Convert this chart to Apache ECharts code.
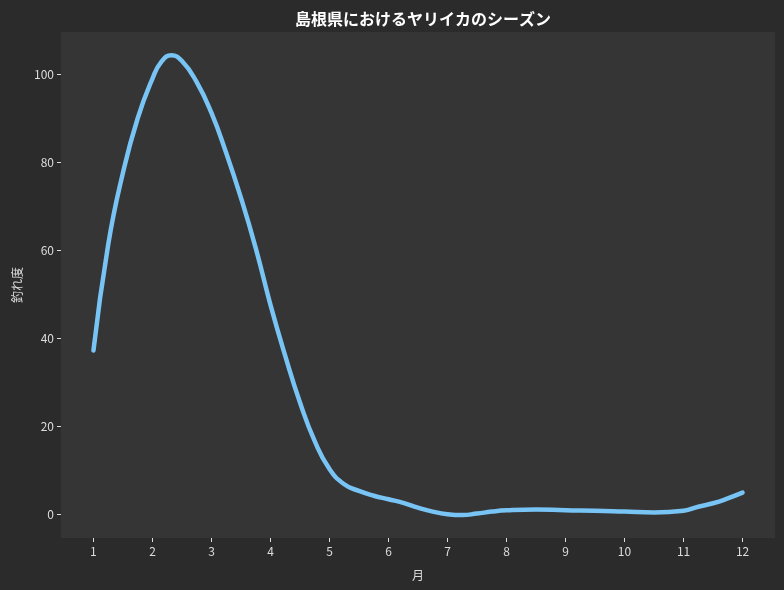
<!DOCTYPE html>
<html>
<head>
<meta charset="utf-8">
<script src="https://cdn.jsdelivr.net/npm/echarts@6/dist/echarts.min.js"></script>
<style>
html,body{margin:0;padding:0;background:#2b2b2b;}
#c{width:784px;height:590px;}
</style>
</head>
<body>
<div id="c"></div>
<script>
// Points (month, catch index)
var monthX = [1.00, 1.25, 1.50, 1.75, 2.00, 2.15, 2.32, 2.50, 2.75, 3.00, 3.25, 3.50, 3.75, 4.00, 4.25, 4.50, 4.75, 5.00, 5.25, 5.50, 5.75, 6.00, 6.25, 6.50, 6.75, 7.00, 7.25, 7.50, 7.75, 8.00, 8.50, 9.00, 9.50, 10.00, 10.50, 11.00, 11.25, 11.50, 11.75, 12.00];
var catchIndex = [37.2, 61.3, 77.6, 90.0, 99.0, 102.8, 104.3, 103.0, 98.2, 91.2, 82.1, 71.9, 60.5, 47.6, 36.0, 25.4, 16.6, 10.3, 6.8, 5.3, 4.2, 3.4, 2.6, 1.5, 0.6, 0.0, -0.2, 0.15, 0.6, 0.9, 1.1, 0.9, 0.8, 0.6, 0.4, 0.8, 1.7, 2.5, 3.6, 4.9];
var xTicks = [1, 2, 3, 4, 5, 6, 7, 8, 9, 10, 11, 12];
var yTicks = [0, 20, 40, 60, 80, 100];
var titleText = '島根県におけるヤリイカのシーズン';
var xName = '月';
var yName = '釣れ度';

var seriesData = monthX.map(function (m, i) { return [m, catchIndex[i]]; });
var FONT = '"Noto Sans CJK JP", "Noto Sans", sans-serif';

var chart = echarts.init(document.getElementById('c'));
chart.setOption({
  backgroundColor: '#2b2b2b',
  animation: false,
  title: {
    text: titleText,
    left: 418,
    textAlign: 'center',
    top: 6,
    textStyle: { color: '#ffffff', fontSize: 16, fontWeight: 'bold', fontFamily: FONT }
  },
  grid: {
    left: 61, right: 9, top: 32, bottom: 52,
    outerBoundsMode: 'none',
    containLabel: false,
    show: true, backgroundColor: '#353535', borderWidth: 0
  },
  xAxis: {
    type: 'value',
    min: 0.45, max: 12.55,
    name: xName,
    nameLocation: 'middle',
    nameGap: 31,
    nameTextStyle: { color: '#dddddd', fontSize: 12, fontFamily: FONT },
    axisLine: { show: false, onZero: false },
    splitLine: { show: false },
    axisTick: { show: true, customValues: xTicks, length: 4, inside: false, lineStyle: { color: '#dddddd', width: 1 } },
    axisLabel: { customValues: xTicks, color: '#dddddd', fontSize: 12, margin: 7, fontFamily: FONT }
  },
  yAxis: {
    type: 'value',
    min: -5.4, max: 109.6,
    name: yName,
    nameLocation: 'middle',
    nameGap: 38,
    nameRotate: 90,
    nameTextStyle: { color: '#dddddd', fontSize: 12, fontFamily: FONT },
    axisLine: { show: false, onZero: false },
    splitLine: { show: false },
    axisTick: { show: true, customValues: yTicks, length: 4, lineStyle: { color: '#dddddd', width: 1 } },
    axisLabel: { customValues: yTicks, color: '#dddddd', fontSize: 12, margin: 7, fontFamily: FONT }
  },
  series: [{
    type: 'line',
    data: seriesData,
    smooth: 0.5,
    showSymbol: false,
    lineStyle: { color: '#78c4f5', width: 4.5, cap: 'round' },
    itemStyle: { color: '#78c4f5' }
  }]
});
</script>
</body>
</html>
